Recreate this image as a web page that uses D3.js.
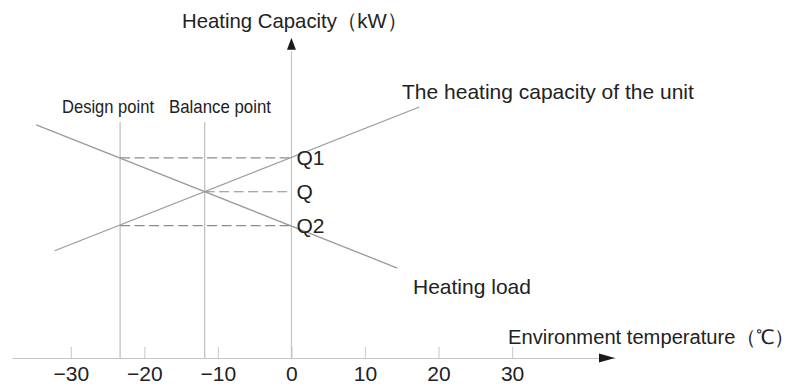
<!DOCTYPE html>
<html>
<head>
<meta charset="utf-8">
<script src="https://cdn.jsdelivr.net/npm/d3@7"></script>
<style>
  html, body { margin: 0; padding: 0; background: #fff; }
  svg { display: block; }
  text { font-family: "Liberation Sans", Arial, sans-serif; fill: #222; }
</style>
</head>
<body>
<svg id="chart" width="803" height="385"></svg>
<script>
// Environment temperature ticks (°C)
const xTicks = [-30, -20, -10, 0, 10, 20, 30];

// Heating load line endpoints: temperature (°C) and capacity (kW, arbitrary units)
const loadTemp = [-34.7, 14.4];
const loadQ = [7.15, 2.76];

// Unit heating capacity line endpoints
const unitTemp = [-32.2, 17.4];
const unitQ = [3.29, 7.70];

// Design and balance points (°C)
const pointNames = ["Design point", "Balance point"];
const pointTemps = [-23.3, -11.8];
const pointTop = 7.24;

// Capacity levels read on the vertical axis
const levelNames = ["Q1", "Q", "Q2"];
const levelQ = [6.14, 5.10, 4.06];
const levelFrom = [-23.3, -11.8, -23.3];

const svg = d3.select("#chart");

const x = d3.scaleLinear().domain([-38, 44]).range([12, 615]);
const y = d3.scaleLinear().domain([0, 10]).range([358, 32]);

// X axis with inward tick marks
const xAxis = d3.axisBottom(x)
  .tickValues(xTicks)
  .tickSizeInner(-11)
  .tickSizeOuter(0)
  .tickPadding(8);

const gx = svg.append("g")
  .attr("transform", `translate(0,${y(0)})`)
  .call(xAxis);
gx.select(".domain").attr("stroke", "#c4c4c4").attr("stroke-width", 1.2);
gx.selectAll(".tick line").attr("stroke", "#d0d0d0").attr("stroke-width", 1.2);
gx.selectAll(".tick text")
  .attr("font-size", 21)
  .attr("font-family", "Liberation Sans, Arial, sans-serif")
  .attr("fill", "#222");

// Y axis line
svg.append("line")
  .attr("x1", x(0)).attr("x2", x(0))
  .attr("y1", y(0)).attr("y2", y(9.4))
  .attr("stroke", "#c4c4c4").attr("stroke-width", 1.2);

// Axis arrowheads
const yTip = y(9.82);
svg.append("path")
  .attr("d", `M${x(0)},${yTip} L${x(0) - 4.5},${yTip + 12} L${x(0) + 4.5},${yTip + 12} Z`)
  .attr("fill", "#1a1a1a");
const xTip = x(44);
svg.append("path")
  .attr("d", `M${xTip},${y(0)} L${xTip - 16},${y(0) - 4.5} L${xTip - 16},${y(0) + 4.5} Z`)
  .attr("fill", "#1a1a1a");

// Vertical guide lines at design and balance points
svg.selectAll(".vguide")
  .data(pointTemps)
  .join("line")
  .attr("class", "vguide")
  .attr("x1", d => x(d)).attr("x2", d => x(d))
  .attr("y1", y(0)).attr("y2", y(pointTop))
  .attr("stroke", "#bdbdbd").attr("stroke-width", 1.2);

// Dashed capacity levels
svg.selectAll(".level")
  .data(levelQ)
  .join("line")
  .attr("class", "level")
  .attr("x1", (d, i) => x(levelFrom[i])).attr("x2", x(0))
  .attr("y1", d => y(d)).attr("y2", d => y(d))
  .attr("stroke", "#8c8c8c").attr("stroke-width", 1.2)
  .attr("stroke-dasharray", "10,4.5");

const line = d3.line().x(d => x(d[0])).y(d => y(d[1]));

// Heating load and unit capacity lines
svg.append("path")
  .datum(loadTemp.map((t, i) => [t, loadQ[i]]))
  .attr("d", line)
  .attr("fill", "none").attr("stroke", "#9a9a9a").attr("stroke-width", 1.3);
svg.append("path")
  .datum(unitTemp.map((t, i) => [t, unitQ[i]]))
  .attr("d", line)
  .attr("fill", "none").attr("stroke", "#9a9a9a").attr("stroke-width", 1.3);

// Labels
svg.append("text")
  .attr("x", 182).attr("y", 28)
  .attr("font-size", 21)
  .attr("textLength", 225)
  .attr("lengthAdjust", "spacingAndGlyphs")
  .text("Heating Capacity（kW）");

svg.append("text")
  .attr("x", 508).attr("y", 344)
  .attr("font-size", 20)
  .attr("textLength", 286)
  .attr("lengthAdjust", "spacingAndGlyphs")
  .text("Environment temperature（℃）");

svg.append("text")
  .attr("x", 402).attr("y", 99)
  .attr("font-size", 21)
  .text("The heating capacity of the unit");

svg.append("text")
  .attr("x", 413).attr("y", 294)
  .attr("font-size", 21)
  .text("Heating load");

const pointLabelX = [62, 169];
const pointLabelW = [92, 102];
svg.selectAll(".plabel")
  .data(pointNames)
  .join("text")
  .attr("class", "plabel")
  .attr("x", (d, i) => pointLabelX[i])
  .attr("y", 113)
  .attr("font-size", 19)
  .attr("textLength", (d, i) => pointLabelW[i])
  .attr("lengthAdjust", "spacingAndGlyphs")
  .text(d => d);

svg.selectAll(".qlabel")
  .data(levelNames)
  .join("text")
  .attr("class", "qlabel")
  .attr("x", x(0) + 5)
  .attr("y", (d, i) => y(levelQ[i]))
  .attr("dy", "0.36em")
  .attr("font-size", 21)
  .text(d => d);
</script>
</body>
</html>
